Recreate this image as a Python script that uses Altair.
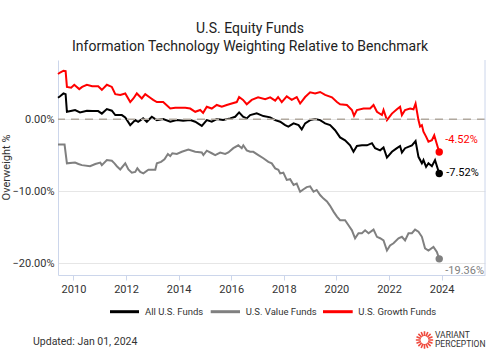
import math
import altair as alt
import pandas as pd

# ---- data (decimal year, overweight %) ----
series_names = ["All U.S. Funds", "U.S. Value Funds", "U.S. Growth Funds"]
series_colors = ["#000000", "#808080", "#ff0000"]

all_x = [2009.41, 2009.49, 2009.62, 2009.70, 2009.75, 2009.94, 2010.06, 2010.25, 2010.51, 2010.71, 2010.94,
         2011.08, 2011.27, 2011.46, 2011.59, 2011.84, 2011.97, 2012.16, 2012.35, 2012.46, 2012.65, 2012.79,
         2012.98, 2013.17, 2013.41, 2013.68, 2013.93, 2014.17, 2014.44, 2014.63, 2014.88, 2015.07, 2015.26,
         2015.45, 2015.69, 2015.96, 2016.15, 2016.30, 2016.45, 2016.59, 2016.72, 2016.97, 2017.22, 2017.48,
         2017.67, 2017.86, 2018.05, 2018.17, 2018.37, 2018.56, 2018.68, 2018.81, 2019.00, 2019.19, 2019.38,
         2019.57, 2019.76, 2019.95, 2020.14, 2020.33, 2020.52, 2020.65, 2020.78, 2020.97, 2021.16, 2021.35,
         2021.47, 2021.66, 2021.79, 2021.92, 2022.11, 2022.30, 2022.42, 2022.49, 2022.61, 2022.87, 2023.01,
         2023.12, 2023.25, 2023.31, 2023.41, 2023.50, 2023.63, 2023.75, 2023.91]
all_y = [3.0, 3.2, 3.6, 3.5, 1.05, 1.2, 1.3, 0.97, 1.2, 1.15, 1.15,
         0.8, 1.43, 1.2, 0.6, 0.6, 0.28, -0.8, -0.1, -0.33, 0.14, -0.33,
         0.36, -0.1, 0.04, -0.33, -0.1, -0.2, -0.1, -0.33, -0.9, -0.1, -0.33,
         0.04, -0.1, 0.14, 0.36, 0.97, 0.36, 0.14, 0.6, 0.83, 0.46, 0.28,
         -0.1, -0.33, -0.8, -1.0, -0.55, -0.8, -1.4, -0.55, -0.1, 0.04, -0.1,
         -0.55, -0.8, -1.5, -2.5, -2.9, -3.6, -4.5, -3.7, -3.6, -3.6, -3.3,
         -4.0, -4.3, -3.9, -5.3, -4.5, -4.0, -3.7, -4.6, -4.0, -3.6, -3.0,
         -5.2, -6.1, -5.65, -6.6, -6.1, -6.5, -5.65, -7.52]

value_x = [2009.41, 2009.66, 2009.75, 2010.06, 2010.19, 2010.32, 2010.63, 2010.83, 2011.02, 2011.08, 2011.27,
           2011.46, 2011.56, 2011.65, 2011.78, 2011.97, 2012.09, 2012.22, 2012.35, 2012.43, 2012.54, 2012.66,
           2012.85, 2013.11, 2013.17, 2013.33, 2013.46, 2013.59, 2013.68, 2013.76, 2013.93, 2014.12, 2014.37,
           2014.63, 2014.88, 2014.94, 2015.07, 2015.26, 2015.39, 2015.58, 2015.77, 2015.89, 2016.08, 2016.27,
           2016.40, 2016.46, 2016.59, 2016.72, 2016.84, 2017.03, 2017.22, 2017.41, 2017.54, 2017.67, 2017.79,
           2017.86, 2017.98, 2018.11, 2018.24, 2018.37, 2018.49, 2018.62, 2018.75, 2018.87, 2019.00, 2019.13,
           2019.25, 2019.38, 2019.51, 2019.64, 2019.76, 2019.89, 2020.02, 2020.14, 2020.33, 2020.46, 2020.59,
           2020.71, 2020.84, 2020.97, 2021.09, 2021.22, 2021.41, 2021.54, 2021.66, 2021.79, 2021.92, 2022.04,
           2022.17, 2022.36, 2022.49, 2022.61, 2022.74, 2022.87, 2022.99, 2023.12, 2023.25, 2023.37, 2023.50,
           2023.69, 2023.82, 2023.91]
value_y = [-3.5, -3.5, -6.1, -6.0, -6.2, -6.35, -6.5, -6.2, -6.0, -6.35, -5.65,
           -5.75, -6.1, -6.5, -6.95, -6.1, -6.95, -7.4, -7.3, -6.8, -7.3, -7.5,
           -7.0, -7.0, -6.1, -5.9, -5.55, -4.8, -5.1, -4.7, -4.8, -4.5, -4.2,
           -4.5, -4.6, -4.95, -4.35, -4.7, -4.95, -4.6, -4.8, -4.6, -4.0, -3.6,
           -4.0, -3.6, -4.3, -4.5, -4.5, -4.95, -5.4, -5.9, -6.1, -6.8, -7.0,
           -7.5, -7.4, -8.4, -8.3, -9.1, -8.9, -10.05, -9.7, -9.4, -9.3, -10.05,
           -9.8, -10.5, -11.0, -11.4, -12.0, -12.8, -13.5, -14.0, -14.0, -14.7, -15.4,
           -16.5, -15.8, -15.8, -15.4, -15.8, -15.3, -16.3, -16.5, -16.8, -18.2, -17.5,
           -17.2, -16.5, -16.3, -16.8, -15.8, -15.8, -15.3, -15.6, -16.3, -17.9, -18.2,
           -17.7, -18.4, -19.36]

growth_x = [2009.41, 2009.49, 2009.62, 2009.70, 2009.75, 2009.91, 2010.03, 2010.22, 2010.33, 2010.51, 2010.71,
            2010.94, 2011.08, 2011.27, 2011.46, 2011.59, 2011.78, 2011.97, 2012.16, 2012.28, 2012.41, 2012.60,
            2012.73, 2012.92, 2013.03, 2013.17, 2013.41, 2013.68, 2013.87, 2014.25, 2014.44, 2014.63, 2014.82,
            2014.93, 2015.07, 2015.26, 2015.45, 2015.64, 2015.83, 2016.02, 2016.21, 2016.30, 2016.45, 2016.59,
            2016.78, 2017.02, 2017.29, 2017.48, 2017.67, 2017.78, 2017.92, 2018.11, 2018.30, 2018.49, 2018.62,
            2018.81, 2019.00, 2019.19, 2019.38, 2019.57, 2019.83, 2020.02, 2020.14, 2020.40, 2020.59, 2020.67,
            2020.78, 2021.03, 2021.28, 2021.41, 2021.54, 2021.73, 2021.79, 2021.92, 2022.11, 2022.30, 2022.42,
            2022.49, 2022.61, 2022.80, 2022.93, 2023.01, 2023.12, 2023.18, 2023.25, 2023.31, 2023.41, 2023.50,
            2023.63, 2023.72, 2023.84, 2023.91]
growth_y = [6.3, 6.5, 6.75, 6.7, 4.5, 4.4, 4.8, 4.2, 4.5, 4.8, 4.6,
            4.6, 4.1, 4.8, 4.5, 3.5, 3.4, 3.6, 2.4, 2.9, 3.6, 2.9,
            3.5, 3.0, 2.7, 2.4, 2.4, 1.5, 1.6, 1.6, 1.5, 1.05, 1.3,
            0.9, 1.75, 1.5, 2.0, 1.75, 2.0, 2.2, 2.4, 3.1, 2.7, 2.1,
            2.7, 3.05, 2.8, 3.05, 2.6, 3.1, 2.4, 3.2, 2.7, 3.1, 2.2,
            3.1, 3.75, 3.6, 3.8, 3.4, 3.05, 2.4, 2.1, 2.0, 1.3, 0.5,
            1.3, 1.5, 1.5, 2.0, 1.05, 0.6, 1.3, -0.1, 0.8, 1.4, 1.75,
            0.6, 1.3, 1.5, 1.4, 2.2, -0.1, -1.0, -0.8, -1.7, -2.4, -3.1,
            -2.9, -2.2, -3.7, -4.52]

tick_years = [2010, 2012, 2014, 2016, 2018, 2020, 2022, 2024]
y_ticks = [-20, -10, 0]


def to_date(y):
    yr = int(math.floor(y))
    return pd.Timestamp(year=yr, month=1, day=1) + pd.Timedelta(days=(y - yr) * 365.25)


frames = []
for name, xs, ys in [(series_names[0], all_x, all_y),
                     (series_names[1], value_x, value_y),
                     (series_names[2], growth_x, growth_y)]:
    frames.append(pd.DataFrame({"date": [to_date(v) for v in xs], "value": ys, "series": name}))
df = pd.concat(frames, ignore_index=True)
last = df.sort_values("date").groupby("series", as_index=False).last()
last["label"] = last["value"].map(lambda v: f"{v:.2f}%")

W, H = 427, 215
FONT = "Roboto"

xscale = alt.Scale(domain=[alt.DateTime(year=2009, month=5, date=31),
                           alt.DateTime(year=2025, month=8, date=26)])
yscale = alt.Scale(domain=[-21.6, 8.24], nice=False, zero=False)
cscale = alt.Scale(domain=series_names, range=series_colors)

x_axis = alt.Axis(values=[alt.DateTime(year=y, month=1, date=1) for y in tick_years],
                  format="%Y", grid=False, domainColor="#ccd6eb", tickColor="#ccd6eb",
                  tickSize=5, labelPadding=3, labelColor="#333333", labelFont=FONT,
                  labelFontSize=11)
y_axis = alt.Axis(values=y_ticks, labelExpr="format(datum.value/100, '.2%')",
                  grid=True, gridColor="#e6e6e6", tickSize=0, domainColor="#ccd6eb",
                  labelPadding=4, labelColor="#333333", labelFont=FONT, labelFontSize=11)

x_enc = alt.X("date:T", scale=xscale, title=None, axis=x_axis)
y_enc = alt.Y("value:Q", scale=yscale, title=None, axis=y_axis)

base = alt.Chart(df)

lines = base.mark_line(strokeWidth=2, interpolate="linear").encode(
    x=x_enc, y=y_enc,
    color=alt.Color("series:N", scale=cscale, legend=None),
    detail="series:N",
)

zero_line = alt.Chart(pd.DataFrame({"value": [0]})).mark_rule(
    color="#b0a89e", strokeDash=[8, 6], strokeWidth=1.5
).encode(y=y_enc)

dots = alt.Chart(last).mark_circle(size=55, opacity=1).encode(
    x=x_enc, y=y_enc,
    color=alt.Color("series:N", scale=cscale, legend=None),
)


def end_label(name, color, dx, dy):
    return alt.Chart(last[last["series"] == name]).mark_text(
        align="left", baseline="middle", dx=dx, dy=dy, font=FONT, fontSize=11, color=color
    ).encode(x=x_enc, y=y_enc, text="label:N")


labels = [end_label(series_names[2], "#ff0000", 6, -12),
          end_label(series_names[0], "#000000", 7, -1),
          end_label(series_names[1], "#808080", 6, 12)]

one = pd.DataFrame({"k": [0]})


def txt(text, x, y, size=11, color="#333333", align="left", angle=0, weight="normal"):
    kw = dict(text=text, align=align, baseline="middle", font=FONT, fontSize=size, color=color,
              fontWeight=weight)
    if angle:
        kw["angle"] = angle
    return alt.Chart(one).mark_text(**kw).encode(x=alt.value(x), y=alt.value(y))


def leg_line(x1, x2, y, color):
    return alt.Chart(one).mark_rule(color=color, strokeWidth=3).encode(
        x=alt.value(x1), x2=alt.value(x2), y=alt.value(y))


right_border = alt.Chart(one).mark_rule(color="#ccd6eb", strokeWidth=1).encode(
    x=alt.value(W), y=alt.value(0), y2=alt.value(H))

rays = []
for i in range(16):
    a = 2 * math.pi * i / 16
    rays.append(f"M{0.45*math.cos(a):.3f},{0.45*math.sin(a):.3f}L{math.cos(a):.3f},{math.sin(a):.3f}")
logo_icon = alt.Chart(one).mark_point(
    shape=" ".join(rays), filled=False, color="#ef4b3f", strokeWidth=1.6, size=300, opacity=1
).encode(x=alt.value(366.5), y=alt.value(280))

decor = [
    txt("U.S. Equity Funds", 192, -31.5, size=14, color="#222222", align="center"),
    txt("Information Technology Weighting Relative to Benchmark", 192, -13, size=14, color="#222222",
        align="center"),
    txt("Overweight %", -51.5, 107.5, size=11, color="#333333", align="center", angle=270),
    leg_line(52, 81, 251.7, series_colors[0]),
    txt(series_names[0], 87, 251.7, size=9.5),
    leg_line(152.7, 182, 251.7, series_colors[1]),
    txt(series_names[1], 187.7, 251.7, size=9.5),
    leg_line(265, 294.7, 251.7, series_colors[2]),
    txt(series_names[2], 300.3, 251.7, size=9.5),
    txt("Updated: Jan 01, 2024", -25, 281.7, size=10.5),
    txt("VARIANT", 377, 275.3, size=8.5, color="#333333"),
    txt("PERCEPTION", 377, 284.3, size=8.5, color="#333333"),
    logo_icon,
    right_border,
]

chart = alt.layer(lines, zero_line, dots, *labels, *decor).properties(
    width=W, height=H,
    autosize=alt.AutoSizeParams(type="none"),
    padding={"left": 58, "top": 60, "right": 15, "bottom": 80},
    background="white",
).configure_view(stroke=None)

chart.save("out.html", embed_options={"renderer": "svg", "actions": False})
